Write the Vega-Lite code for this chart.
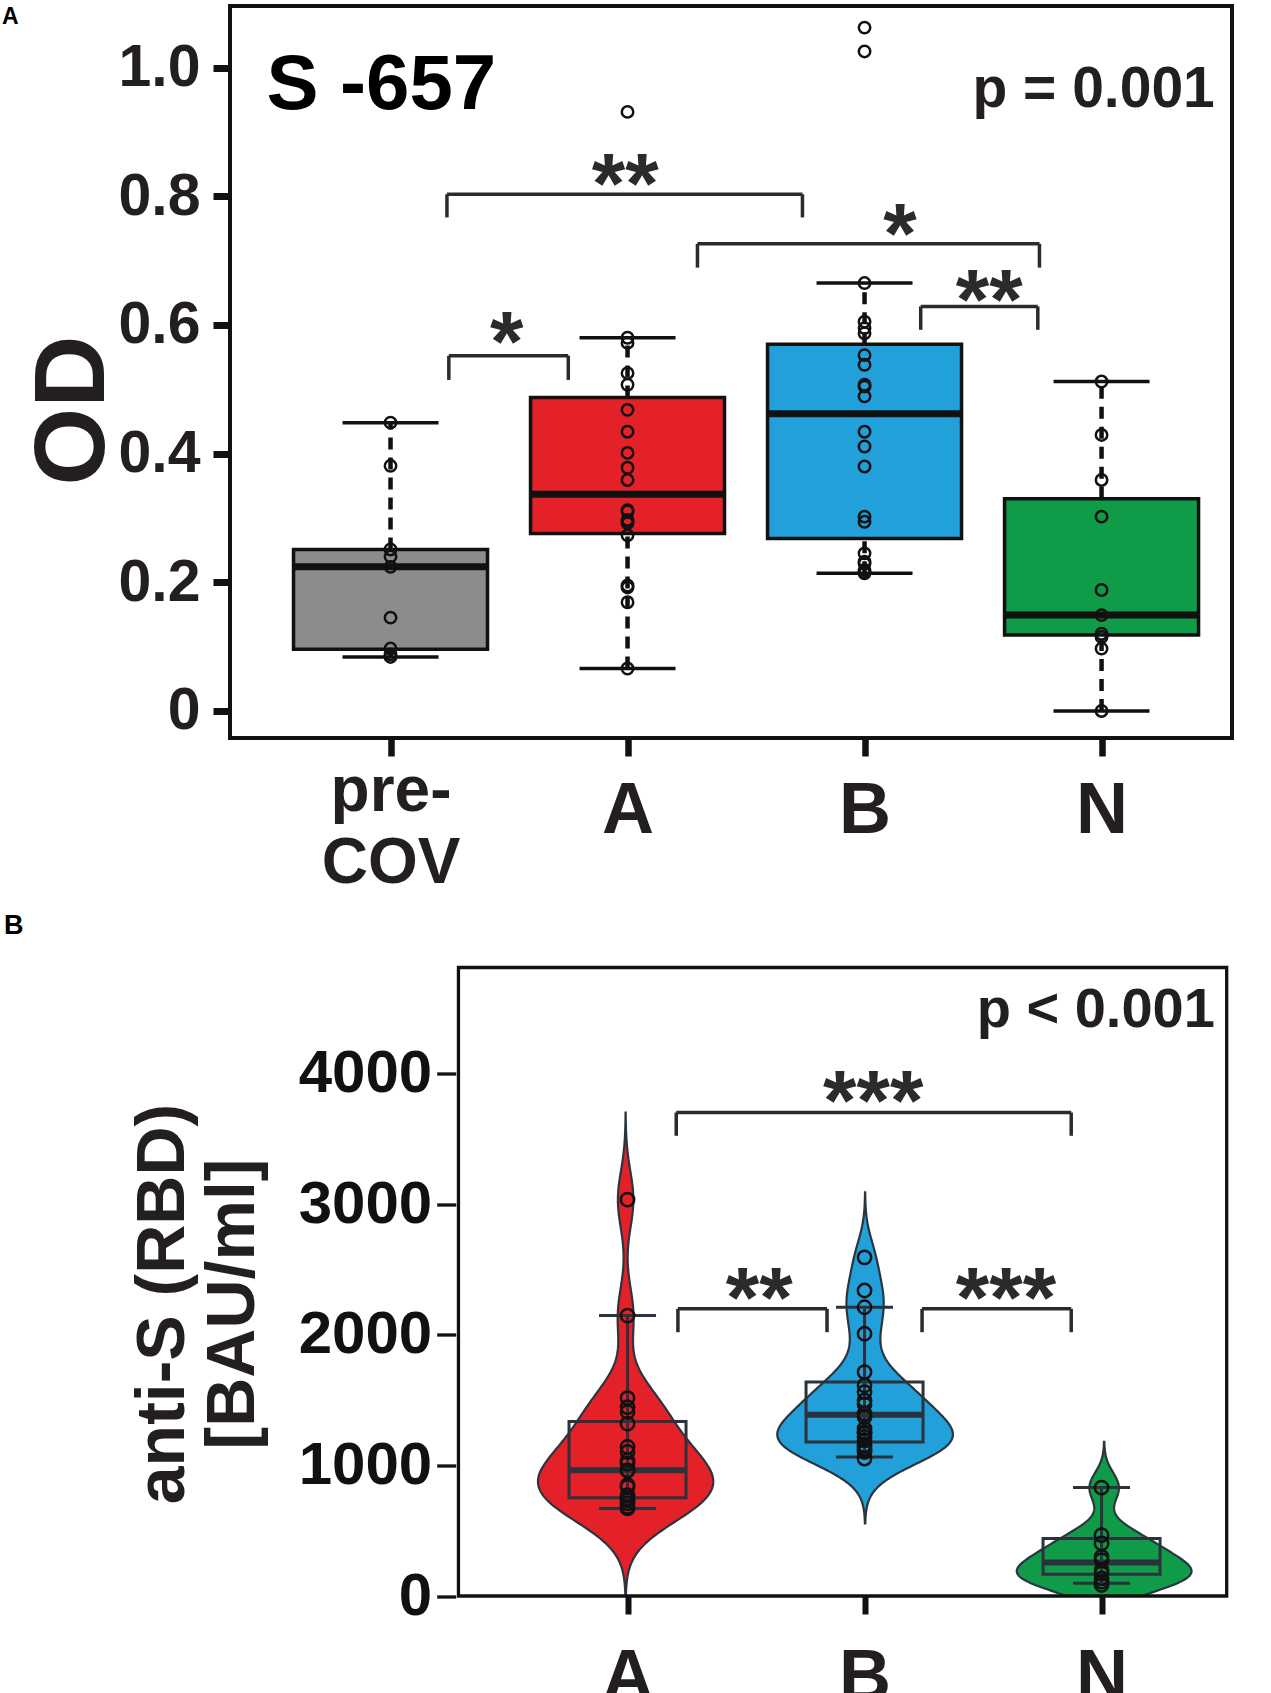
{
  "$schema": "https://vega.github.io/schema/vega-lite/v6.json",
  "background": "white",
  "padding": {"left": 0, "top": 4, "right": 0, "bottom": 0},
  "spacing": 14.5,
  "config": {
    "font": "Liberation Sans",
    "axis": {"grid": false, "domain": false, "labelFont": "Liberation Sans", "titleFont": "Liberation Sans", "labelFontWeight": "bold", "titleFontWeight": "bold", "labelFlush": false, "labelOverlap": false, "labelBound": false},
    "text": {"font": "Liberation Sans", "fontWeight": "bold"}
  },
  "datasets": {
    "boxA": [
      {"g": 1, "lo": 0.084, "q1": 0.096, "med": 0.224, "q3": 0.251, "hi": 0.448},
      {"g": 2, "lo": 0.066, "q1": 0.276, "med": 0.337, "q3": 0.487, "hi": 0.580},
      {"g": 3, "lo": 0.214, "q1": 0.268, "med": 0.462, "q3": 0.570, "hi": 0.665},
      {"g": 4, "lo": 0.0, "q1": 0.118, "med": 0.149, "q3": 0.330, "hi": 0.512}
    ],
    "ptsA": [
      {"g": 1, "v": 0.448}, {"g": 1, "v": 0.381}, {"g": 1, "v": 0.251}, {"g": 1, "v": 0.240}, {"g": 1, "v": 0.224}, {"g": 1, "v": 0.145}, {"g": 1, "v": 0.097}, {"g": 1, "v": 0.088}, {"g": 1, "v": 0.084},
      {"g": 2, "v": 0.931}, {"g": 2, "v": 0.580}, {"g": 2, "v": 0.572}, {"g": 2, "v": 0.525}, {"g": 2, "v": 0.507}, {"g": 2, "v": 0.468}, {"g": 2, "v": 0.434}, {"g": 2, "v": 0.401}, {"g": 2, "v": 0.378}, {"g": 2, "v": 0.359}, {"g": 2, "v": 0.312}, {"g": 2, "v": 0.310}, {"g": 2, "v": 0.297}, {"g": 2, "v": 0.294}, {"g": 2, "v": 0.292}, {"g": 2, "v": 0.273}, {"g": 2, "v": 0.195}, {"g": 2, "v": 0.192}, {"g": 2, "v": 0.169}, {"g": 2, "v": 0.066},
      {"g": 3, "v": 1.062}, {"g": 3, "v": 1.025}, {"g": 3, "v": 0.665}, {"g": 3, "v": 0.605}, {"g": 3, "v": 0.595}, {"g": 3, "v": 0.587}, {"g": 3, "v": 0.553}, {"g": 3, "v": 0.538}, {"g": 3, "v": 0.507}, {"g": 3, "v": 0.504}, {"g": 3, "v": 0.489}, {"g": 3, "v": 0.434}, {"g": 3, "v": 0.411}, {"g": 3, "v": 0.380}, {"g": 3, "v": 0.302}, {"g": 3, "v": 0.294}, {"g": 3, "v": 0.245}, {"g": 3, "v": 0.232}, {"g": 3, "v": 0.229}, {"g": 3, "v": 0.219}, {"g": 3, "v": 0.216}, {"g": 3, "v": 0.214},
      {"g": 4, "v": 0.512}, {"g": 4, "v": 0.429}, {"g": 4, "v": 0.359}, {"g": 4, "v": 0.302}, {"g": 4, "v": 0.188}, {"g": 4, "v": 0.149}, {"g": 4, "v": 0.120}, {"g": 4, "v": 0.115}, {"g": 4, "v": 0.097}, {"g": 4, "v": 0.0}
    ],
    "brA": [
      {"x1": 1.246, "x2": 1.750, "yt": 0.552, "yb": 0.5145},
      {"x1": 1.238, "x2": 2.738, "yt": 0.803, "yb": 0.767},
      {"x1": 2.295, "x2": 3.738, "yt": 0.726, "yb": 0.689},
      {"x1": 3.237, "x2": 3.731, "yt": 0.6287, "yb": 0.5924}
    ],
    "starA": [
      {"x": 1.49, "y": 0.529, "t": "*"},
      {"x": 1.99, "y": 0.7745, "t": "**"},
      {"x": 3.15, "y": 0.696, "t": "*"},
      {"x": 3.526, "y": 0.593, "t": "**"}
    ],
    "boxB": [
      {"g": 1, "lo": 670, "q1": 751, "med": 962, "q3": 1336, "hi": 2146},
      {"g": 2, "lo": 1064, "q1": 1179, "med": 1388, "q3": 1637, "hi": 2210},
      {"g": 3, "lo": 97, "q1": 166, "med": 257, "q3": 440, "hi": 830}
    ],
    "ptsB": [
      {"g": 1, "v": 3033}, {"g": 1, "v": 2146}, {"g": 1, "v": 1515}, {"g": 1, "v": 1446}, {"g": 1, "v": 1408}, {"g": 1, "v": 1319}, {"g": 1, "v": 1141}, {"g": 1, "v": 1102}, {"g": 1, "v": 1039}, {"g": 1, "v": 1013}, {"g": 1, "v": 962}, {"g": 1, "v": 960}, {"g": 1, "v": 848}, {"g": 1, "v": 835}, {"g": 1, "v": 772}, {"g": 1, "v": 746}, {"g": 1, "v": 733}, {"g": 1, "v": 708}, {"g": 1, "v": 682}, {"g": 1, "v": 670},
      {"g": 2, "v": 2592}, {"g": 2, "v": 2338}, {"g": 2, "v": 2210}, {"g": 2, "v": 2007}, {"g": 2, "v": 1714}, {"g": 2, "v": 1612}, {"g": 2, "v": 1561}, {"g": 2, "v": 1497}, {"g": 2, "v": 1467}, {"g": 2, "v": 1396}, {"g": 2, "v": 1370}, {"g": 2, "v": 1281}, {"g": 2, "v": 1255}, {"g": 2, "v": 1243}, {"g": 2, "v": 1217}, {"g": 2, "v": 1192}, {"g": 2, "v": 1154}, {"g": 2, "v": 1128}, {"g": 2, "v": 1115}, {"g": 2, "v": 1102}, {"g": 2, "v": 1052},
      {"g": 3, "v": 830}, {"g": 3, "v": 466}, {"g": 3, "v": 402}, {"g": 3, "v": 300}, {"g": 3, "v": 275}, {"g": 3, "v": 199}, {"g": 3, "v": 173}, {"g": 3, "v": 135}, {"g": 3, "v": 109}, {"g": 3, "v": 84}
    ],
    "brB": [
      {"x1": 1.2055, "x2": 2.872, "yt": 3700, "yb": 3522},
      {"x1": 1.2126, "x2": 1.8417, "yt": 2198, "yb": 2019},
      {"x1": 2.2427, "x2": 2.872, "yt": 2198, "yb": 2019}
    ],
    "starB": [
      {"x": 2.037, "y": 3565, "t": "***"},
      {"x": 1.556, "y": 2062, "t": "**"},
      {"x": 2.597, "y": 2055, "t": "***"}
    ]
  },
  "vconcat": [
    {
      "width": 1002,
      "height": 732,
      "view": {"stroke": "#111111", "strokeWidth": 4},
      "layer": [
        {
          "data": {"name": "boxA"},
          "mark": {"type": "rule", "strokeDash": [12, 8], "strokeWidth": 4.5, "color": "#111111"},
          "encoding": {
            "x": {"field": "g", "type": "quantitative", "scale": {"domain": [0.3438, 4.5293], "nice": false, "zero": false},
              "axis": {"values": [1, 2, 3, 4], "title": null,
                "labelExpr": "datum.value == 1 ? ['pre-', 'COV'] : datum.value == 2 ? 'A' : datum.value == 3 ? 'B' : 'N'",
                "labelFontSize": {"condition": {"test": "datum.value == 1", "value": 64}, "value": 72},
                "labelBaseline": {"condition": {"test": "datum.value == 1", "value": "alphabetic"}, "value": "middle"},
                "labelLineHeight": 72, "labelPadding": 54, "labelColor": "#231f20",
                "tickSize": 18, "tickWidth": 6.5, "tickColor": "#111111"}},
            "y": {"field": "lo", "type": "quantitative", "scale": {"domain": [-0.042, 1.0956], "nice": false, "zero": false},
              "axis": {"values": [0, 0.2, 0.4, 0.6, 0.8, 1.0], "labelExpr": "datum.value == 0 ? '0' : format(datum.value, '.1f')",
                "labelFontSize": 59, "labelPadding": 13, "labelColor": "#231f20", "tickSize": 17, "tickWidth": 7, "tickColor": "#111111",
                "title": "OD", "titleFontSize": 100, "titlePadding": -7, "titleY": 404, "titleAlign": "center", "titleColor": "#231f20"}},
            "y2": {"field": "q1"}
          }
        },
        {
          "data": {"name": "boxA"},
          "mark": {"type": "rule", "strokeDash": [12, 8], "strokeWidth": 4.5, "color": "#111111"},
          "encoding": {
            "x": {"field": "g", "type": "quantitative"},
            "y": {"field": "q3", "type": "quantitative"},
            "y2": {"field": "hi"}
          }
        },
        {
          "data": {"name": "boxA"},
          "mark": {"type": "tick", "orient": "horizontal", "size": 96, "thickness": 3.5, "color": "#111111", "opacity": 1},
          "encoding": {
            "x": {"field": "g", "type": "quantitative"},
            "y": {"field": "lo", "type": "quantitative"}
          }
        },
        {
          "data": {"name": "boxA"},
          "mark": {"type": "tick", "orient": "horizontal", "size": 96, "thickness": 3.5, "color": "#111111", "opacity": 1},
          "encoding": {
            "x": {"field": "g", "type": "quantitative"},
            "y": {"field": "hi", "type": "quantitative"}
          }
        },
        {
          "data": {"name": "boxA"},
          "mark": {"type": "bar", "size": 194, "stroke": "#111111", "strokeWidth": 3.5, "opacity": 1},
          "encoding": {
            "x": {"field": "g", "type": "quantitative"},
            "y": {"field": "q1", "type": "quantitative"},
            "y2": {"field": "q3"},
            "color": {"field": "g", "type": "nominal", "scale": {"domain": [1, 2, 3, 4], "range": ["#8c8c8c", "#e42128", "#22a0da", "#0f9b48"]}, "legend": null}
          }
        },
        {
          "data": {"name": "boxA"},
          "mark": {"type": "tick", "orient": "horizontal", "size": 194, "thickness": 7, "color": "#111111", "opacity": 1},
          "encoding": {
            "x": {"field": "g", "type": "quantitative"},
            "y": {"field": "med", "type": "quantitative"}
          }
        },
        {
          "data": {"name": "ptsA"},
          "mark": {"type": "point", "shape": "circle", "filled": false, "size": 130, "stroke": "#111111", "strokeWidth": 2.5, "opacity": 1},
          "encoding": {
            "x": {"field": "g", "type": "quantitative"},
            "y": {"field": "v", "type": "quantitative"}
          }
        },
        {
          "data": {"name": "brA"},
          "mark": {"type": "rule", "strokeWidth": 3.5, "color": "#2b2b2b"},
          "encoding": {
            "x": {"field": "x1", "type": "quantitative"},
            "x2": {"field": "x2"},
            "y": {"field": "yt", "type": "quantitative"}
          }
        },
        {
          "data": {"name": "brA"},
          "mark": {"type": "rule", "strokeWidth": 3.5, "color": "#2b2b2b"},
          "encoding": {
            "x": {"field": "x1", "type": "quantitative"},
            "y": {"field": "yt", "type": "quantitative"},
            "y2": {"field": "yb"}
          }
        },
        {
          "data": {"name": "brA"},
          "mark": {"type": "rule", "strokeWidth": 3.5, "color": "#2b2b2b"},
          "encoding": {
            "x": {"field": "x2", "type": "quantitative"},
            "y": {"field": "yt", "type": "quantitative"},
            "y2": {"field": "yb"}
          }
        },
        {
          "data": {"name": "starA"},
          "mark": {"type": "text", "fontSize": 86, "align": "center", "baseline": "alphabetic", "color": "#2b2b2b"},
          "encoding": {
            "x": {"field": "x", "type": "quantitative"},
            "y": {"field": "y", "type": "quantitative"},
            "text": {"field": "t"}
          }
        },
        {
          "data": {"values": [{"x": 0.4762, "y": 0.935, "t": "S -657"}]},
          "mark": {"type": "text", "fontSize": 78, "align": "left", "baseline": "alphabetic", "color": "#000000"},
          "encoding": {
            "x": {"field": "x", "type": "quantitative"},
            "y": {"field": "y", "type": "quantitative"},
            "text": {"field": "t"}
          }
        },
        {
          "data": {"values": [{"x": 4.4779, "y": 0.938, "t": "p = 0.001"}]},
          "mark": {"type": "text", "fontSize": 57, "align": "right", "baseline": "alphabetic", "color": "#231f20"},
          "encoding": {
            "x": {"field": "x", "type": "quantitative"},
            "y": {"field": "y", "type": "quantitative"},
            "text": {"field": "t"}
          }
        },
        {
          "data": {"values": [{"x": -0.6391, "y": 1.0672, "t": "A"}]},
          "mark": {"type": "text", "fontSize": 23, "align": "left", "baseline": "alphabetic", "color": "#000000", "clip": false},
          "encoding": {
            "x": {"field": "x", "type": "quantitative"},
            "y": {"field": "y", "type": "quantitative"},
            "text": {"field": "t"}
          }
        }
      ]
    },
    {
      "width": 1002,
      "height": 628.5,
      "view": {"stroke": null},
      "layer": [
        {
          "layer": [
            {
              "data": {"name": "ptsB"},
              "transform": [{"filter": "datum.g == 1"}, {"density": "v", "bandwidth": 220, "extent": [0, 3700], "steps": 200}],
              "mark": {"type": "area", "orient": "horizontal", "color": "#e42128", "stroke": "#2b3540", "strokeWidth": 2.2, "clip": true, "opacity": 1},
              "encoding": {
                "y": {"field": "value", "type": "quantitative", "scale": {"domain": [0, 4810], "nice": false, "zero": false}},
                "x": {"field": "density", "type": "quantitative", "stack": "center", "scale": {"domain": [-0.001805, 0.004068], "nice": false, "zero": false}, "axis": null}
              }
            },
            {
              "data": {"name": "ptsB"},
              "transform": [{"filter": "datum.g == 2"}, {"density": "v", "bandwidth": 166, "extent": [555, 3090], "steps": 200}],
              "mark": {"type": "area", "orient": "horizontal", "color": "#22a0da", "stroke": "#2b3540", "strokeWidth": 2.2, "clip": true, "opacity": 1},
              "encoding": {
                "y": {"field": "value", "type": "quantitative"},
                "x": {"field": "density", "type": "quantitative", "stack": "center", "scale": {"domain": [-0.003886, 0.003229], "nice": false, "zero": false}, "axis": null}
              }
            },
            {
              "data": {"name": "ptsB"},
              "transform": [{"filter": "datum.g == 3"}, {"density": "v", "bandwidth": 116, "extent": [0, 1180], "steps": 200}],
              "mark": {"type": "area", "orient": "horizontal", "color": "#0f9b48", "stroke": "#2b3540", "strokeWidth": 2.2, "clip": true, "opacity": 1},
              "encoding": {
                "y": {"field": "value", "type": "quantitative"},
                "x": {"field": "density", "type": "quantitative", "stack": "center", "scale": {"domain": [-0.009244, 0.002529], "nice": false, "zero": false}, "axis": null}
              }
            }
          ],
          "resolve": {"scale": {"x": "independent"}}
        },
        {
          "data": {"name": "boxB"},
          "mark": {"type": "rule", "strokeWidth": 3, "color": "#2b323b"},
          "encoding": {
            "x": {"field": "g", "type": "quantitative", "scale": {"domain": [-0.6562, 3.5293], "nice": false, "zero": false},
              "axis": {"values": [1, 2, 3], "title": null,
                "labelExpr": "datum.value == 1 ? 'A' : datum.value == 2 ? 'B' : 'N'",
                "labelFontSize": 72, "labelBaseline": "top", "labelPadding": 28, "labelColor": "#231f20",
                "tickSize": 18, "tickWidth": 6, "tickColor": "#111111"}},
            "y": {"field": "lo", "type": "quantitative", "scale": {"domain": [0, 4810], "nice": false, "zero": false},
              "axis": {"values": [0, 1000, 2000, 3000, 4000], "format": "d", "offset": -225.7,
                "labelFontSize": 60, "labelPadding": 5, "labelColor": "#111111", "tickSize": 19, "tickWidth": 3.3, "tickColor": "#111111",
                "title": ["anti-S (RBD)", "[BAU/ml]"], "titleFontSize": 68, "titleLineHeight": 70, "titlePadding": 31, "titleY": 336, "titleAlign": "center", "titleColor": "#231f20"}},
            "y2": {"field": "hi"}
          }
        },
        {
          "data": {"name": "boxB"},
          "mark": {"type": "tick", "orient": "horizontal", "size": 57, "thickness": 3, "color": "#2b323b", "opacity": 1},
          "encoding": {
            "x": {"field": "g", "type": "quantitative", "axis": null},
            "y": {"field": "lo", "type": "quantitative"}
          }
        },
        {
          "data": {"name": "boxB"},
          "mark": {"type": "tick", "orient": "horizontal", "size": 57, "thickness": 3, "color": "#2b323b", "opacity": 1},
          "encoding": {
            "x": {"field": "g", "type": "quantitative", "axis": null},
            "y": {"field": "hi", "type": "quantitative"}
          }
        },
        {
          "data": {"name": "boxB"},
          "mark": {"type": "bar", "size": 117, "fill": "#ffffff", "fillOpacity": 0, "stroke": "#2b323b", "strokeWidth": 3},
          "encoding": {
            "x": {"field": "g", "type": "quantitative", "axis": null},
            "y": {"field": "q1", "type": "quantitative"},
            "y2": {"field": "q3"}
          }
        },
        {
          "data": {"name": "boxB"},
          "mark": {"type": "tick", "orient": "horizontal", "size": 117, "thickness": 6, "color": "#2b323b", "opacity": 1},
          "encoding": {
            "x": {"field": "g", "type": "quantitative", "axis": null},
            "y": {"field": "med", "type": "quantitative"}
          }
        },
        {
          "data": {"name": "ptsB"},
          "mark": {"type": "point", "shape": "circle", "filled": false, "size": 177, "stroke": "#111111", "strokeWidth": 2.5, "opacity": 1},
          "encoding": {
            "x": {"field": "g", "type": "quantitative", "axis": null},
            "y": {"field": "v", "type": "quantitative"}
          }
        },
        {
          "data": {"name": "brB"},
          "mark": {"type": "rule", "strokeWidth": 3.5, "color": "#2b2b2b"},
          "encoding": {
            "x": {"field": "x1", "type": "quantitative", "axis": null},
            "x2": {"field": "x2"},
            "y": {"field": "yt", "type": "quantitative"}
          }
        },
        {
          "data": {"name": "brB"},
          "mark": {"type": "rule", "strokeWidth": 3.5, "color": "#2b2b2b"},
          "encoding": {
            "x": {"field": "x1", "type": "quantitative", "axis": null},
            "y": {"field": "yt", "type": "quantitative"},
            "y2": {"field": "yb"}
          }
        },
        {
          "data": {"name": "brB"},
          "mark": {"type": "rule", "strokeWidth": 3.5, "color": "#2b2b2b"},
          "encoding": {
            "x": {"field": "x2", "type": "quantitative", "axis": null},
            "y": {"field": "yt", "type": "quantitative"},
            "y2": {"field": "yb"}
          }
        },
        {
          "data": {"name": "starB"},
          "mark": {"type": "text", "fontSize": 86, "align": "center", "baseline": "alphabetic", "color": "#2b2b2b"},
          "encoding": {
            "x": {"field": "x", "type": "quantitative", "axis": null},
            "y": {"field": "y", "type": "quantitative"},
            "text": {"field": "t"}
          }
        },
        {
          "data": {"values": [{"x": 3.4779, "y": 4354, "t": "p < 0.001"}]},
          "mark": {"type": "text", "fontSize": 56, "align": "right", "baseline": "alphabetic", "color": "#231f20"},
          "encoding": {
            "x": {"field": "x", "type": "quantitative", "axis": null},
            "y": {"field": "y", "type": "quantitative"},
            "text": {"field": "t"}
          }
        },
        {
          "data": {"values": [{}]},
          "mark": {"type": "rect", "fill": null, "fillOpacity": 0, "stroke": "#111111", "strokeWidth": 3.3},
          "encoding": {
            "x": {"datum": 0.2866, "type": "quantitative", "axis": null},
            "x2": {"datum": 3.528},
            "y": {"datum": 0, "type": "quantitative"},
            "y2": {"datum": 4810}
          }
        },
        {
          "data": {"values": [{"x": -1.6307, "y": 5067, "t": "B"}]},
          "mark": {"type": "text", "fontSize": 27, "align": "left", "baseline": "alphabetic", "color": "#000000", "clip": false},
          "encoding": {
            "x": {"field": "x", "type": "quantitative", "axis": null},
            "y": {"field": "y", "type": "quantitative"},
            "text": {"field": "t"}
          }
        }
      ]
    }
  ]
}
